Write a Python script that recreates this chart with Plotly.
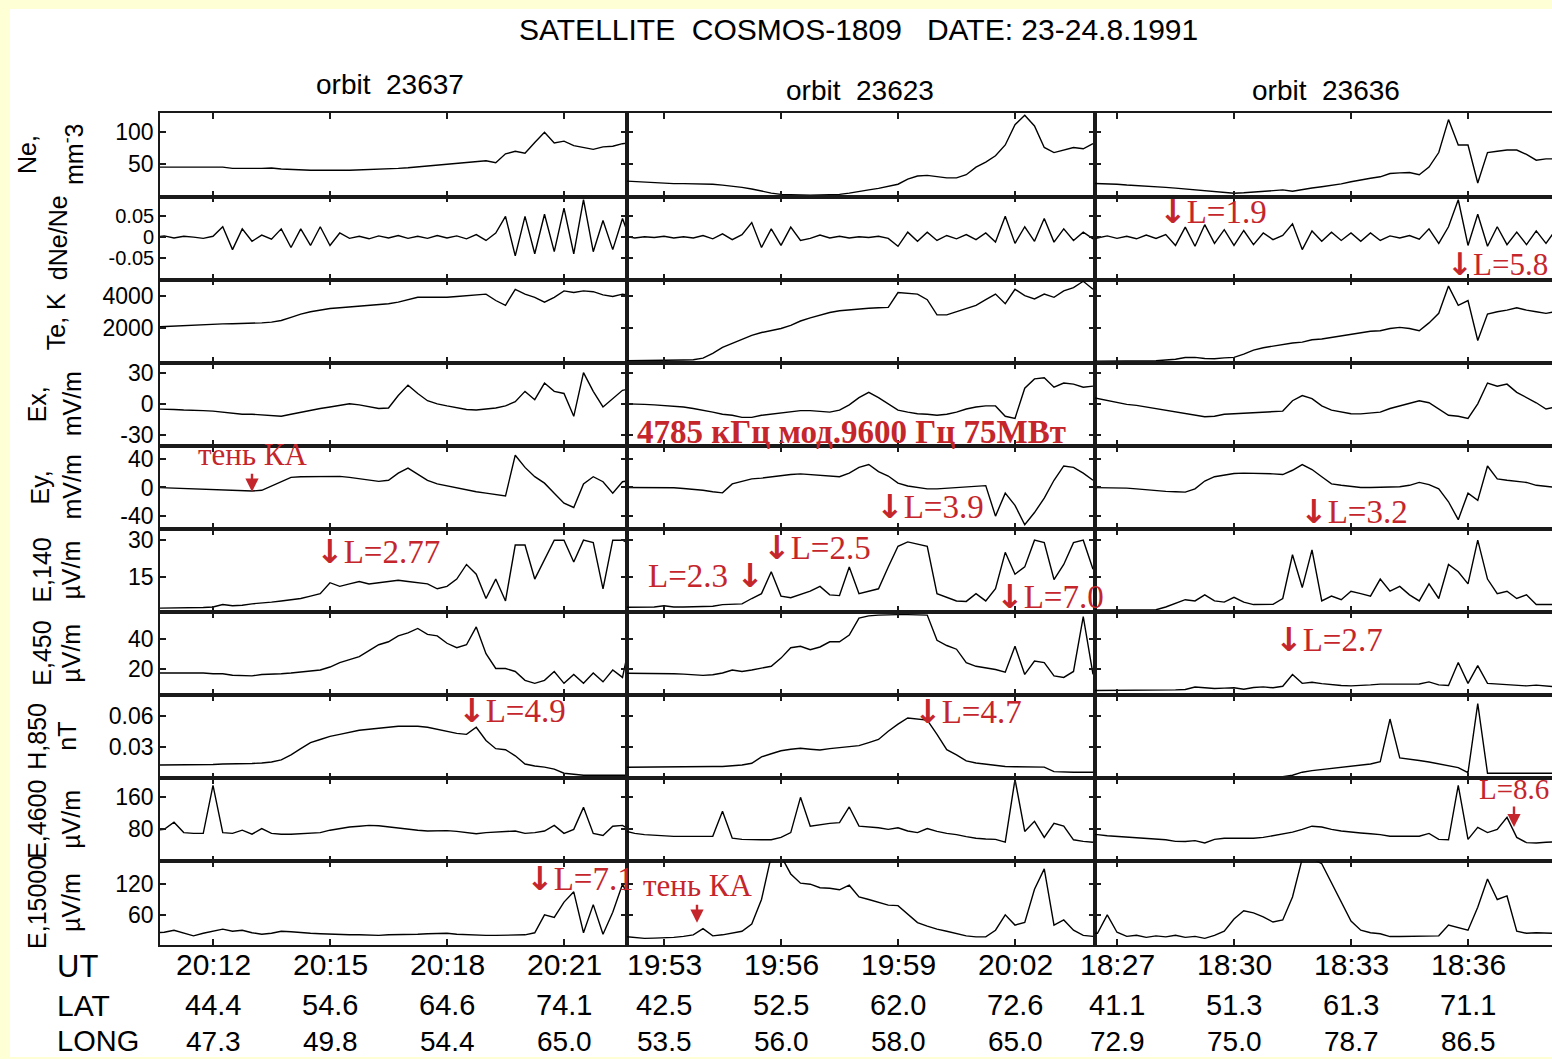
import plotly.graph_objects as go

# ---------------- data (minutes after first labelled UT of each orbit) ----------------
T1 = [-1.5,-1.25,-1,-0.75,-0.5,-0.25,0,0.25,0.5,0.75,1,1.25,1.5,1.75,2,2.25,2.5,2.75,3,3.25,
      3.5,3.75,4,4.25,4.5,4.75,5,5.25,5.5,5.75,6,6.25,6.5,6.75,7,7.25,7.5,7.75,8,8.25,
      8.5,8.75,9,9.25,9.5,9.75,10,10.25,10.5,10.75]
T2 = [-1,-0.75,-0.5,-0.25,0,0.25,0.5,0.75,1,1.25,1.5,1.75,2,2.25,2.5,2.75,3,3.25,3.5,3.75,
      4,4.25,4.5,4.75,5,5.25,5.5,5.75,6,6.25,6.5,6.75,7,7.25,7.5,7.75,8,8.25,8.5,8.75,
      9,9.25,9.5,9.75,10,10.25,10.5,10.75,11]
T3 = [-0.75,-0.5,-0.25,0,0.25,0.5,0.75,1,1.25,1.5,1.75,2,2.25,2.5,2.75,3,3.25,3.5,3.75,4,
      4.25,4.5,4.75,5,5.25,5.5,5.75,6,6.25,6.5,6.75,7,7.25,7.5,7.75,8,8.25,8.5,8.75,9,
      9.25,9.5,9.75,10,10.25,10.5,10.75,11,11.25]

# orbit 23637
NE1 = [45,45,45,45,45,45.5,46,45,43,42.5,43,43,43.5,42,41,40.5,40,40,39.5,40,40,40.5,41,41,41.5,43,44,45.5,47,48,
       50,51,53,54,55,52,66,70,67,84,100,83,86,79,76,73,77,78,82,84]
DNE1 = [0,0.003,-0.002,0.002,0,-0.003,0.002,0.025,-0.03,0.02,-0.01,0.005,-0.005,0.02,-0.025,0.02,-0.02,0.025,-0.02,0.01,
        -0.003,0.002,-0.004,0.003,-0.002,0.004,-0.003,0.002,-0.003,0.004,-0.002,0.003,-0.004,0.006,-0.008,0.01,0.05,-0.045,0.05,-0.04,
        0.055,-0.035,0.07,-0.04,0.09,-0.035,0.04,-0.03,0.045,-0.02]
TE1 = [2050,2080,2120,2150,2180,2200,2220,2240,2250,2260,2280,2300,2350,2450,2650,2850,3000,3100,3200,3250,
       3300,3350,3400,3450,3500,3600,3750,3900,3900,3900,3900,3950,4000,4050,4100,3700,3400,4400,4100,3900,
       3600,3900,4300,4200,4300,4250,4050,3950,4100,4000]
EX1 = [-5,-5,-5.5,-6,-6,-6.5,-7,-8,-9,-10,-10,-10.5,-11,-12,-10,-8,-6,-4.5,-3,-1.5,0,-1,-3,-4.5,-4,8,18,10,3,0,
       -2,-4,-5.5,-6,-5,-4,-2,2,12,4,20,12,10,-12,30,12,-3,5,13,15]
EY1 = [0,-0.5,-1,-1,-1.5,-2,-2,-2.5,-3,-3.5,-5,-4,2,8,14,15,15,15,15.5,15.5,14,12,10,8.5,10,20,27,18,10,5,
       2,0,-3,-6,-8,-10,-12,45,28,15,6,-8,-22,-28,5,15,8,-8,8,10]
E140_1 = [2,2,2,2.2,2,2.3,2.5,3.5,3,3.2,3.8,4,4.5,5,5.5,6,7,8,12.5,11,12,13,12,12.5,13,13.5,13,12.5,12,10,
          11,14,20,16,6,14,5,28,28,14,22,30,30,21,30,29,10,30,30,28]
E450_1 = [17,17,17,17,17.5,17,16.5,16.5,15.5,15.5,15,16,16,16.5,17,17.5,18,19,21,24,26,28,32,36,38,42,44,47,43,42,
          37,34,36,48,30,20,20,18,12,10,12,18,10,16,10,17,11,19,14,45]
H850_1 = [.012,.012,.012,.012,.0125,.0125,.0125,.013,.013,.013,.0135,.014,.015,.017,.022,.028,.034,.037,.04,.042,
          .044,.046,.047,.048,.049,.05,.05,.05,.049,.047,.045,.043,.042,.049,.036,.028,.027,.021,.013,.011,
          .01,.008,.004,.003,.002,.002,.002,.002,.002,.002]
E4600_1 = [78,80,98,72,70,70,190,72,70,78,68,82,70,68,68,69,70,72,78,82,86,88,90,89,86,83,80,78,76,77,
           77,75,72,69,72,73,75,76,70,72,76,90,70,80,135,70,65,88,90,75]
E15000_1 = [25,26,30,24,19,24,28,32,28,30,25,22,24,28,27,25,24,23,22,22,21,21,20,20,21,21,22,22,23,23,
            24,22,21,21,20,20,20,20,21,25,60,55,85,105,25,80,22,65,120,80]

# orbit 23623
NE2 = [23,22,21,20,19.5,19,19,19,18.5,18,16.5,15,13,10.5,7,4,2,1,1,0.5,1,1,2,4,6,9,11.5,14.5,18,26,
       31,32,30,28,28,33,45,53,63,80,112,127,110,76,68,72,76,74,82]
DNE2 = [0.002,-0.002,0.001,-0.001,0.002,-0.002,0.001,-0.002,0.004,-0.004,0.008,-0.006,0.006,0.035,-0.025,0.02,-0.02,0.024,-0.008,-0.003,
        0.005,-0.002,0.002,-0.002,0.001,-0.001,0.002,-0.003,-0.022,0.012,-0.01,0.012,-0.008,0.004,-0.004,0.006,-0.006,0.01,-0.012,0.05,
        -0.015,0.025,-0.01,0.045,-0.012,0.02,-0.008,0.012,-0.004]
TE2 = [-60,-60,-50,-40,-40,-30,-20,0,100,400,770,1020,1270,1520,1700,1830,1950,2150,2420,2620,
       2780,2950,3060,3120,3180,3220,3250,3270,4200,4150,4100,3750,2800,2800,3000,3200,3400,3750,4100,3500,
       4400,4000,3800,4100,3900,4300,4500,4900,4400]
EX2 = [0,0,-0.5,-1,-1.5,-2,-3,-4.5,-6,-8,-10,-11,-13,-13,-11,-10,-9,-8,-6.5,-6.5,-7,-8,-6,-1,6,11,6,0,-6,-8,
       -9.5,-10,-11,-10,-8,-5,-3,-2,-2,-12,-14,15,24,25,16,20,19,16,17]
EY2 = [0,0,0,0,0,-0.5,-1.5,-2.5,-4,-6,-7.5,5,9,12,13,15,17,18,19,18,17,15,15,20,28,32,22,16,6,2,
       0,-2,-2,-1,0,1,1.5,2.5,-40,-8,-25,-52,-35,-15,10,30,28,20,10]
E140_2 = [2.4,2.4,2.4,2.5,3,2.5,2.5,2.6,2.7,2.8,3.5,3.5,3.8,6,8,17,7,6.3,7.5,9,11,7.5,7.2,19,8,9,10,19,27.5,29.3,
          28.5,27.5,8,6.5,5,4.8,8,5,10,25,16,19,30,29,13.8,20,29,30,18]
E450_2 = [16.8,16.8,16.8,16.8,16.8,16.5,16.2,15.8,15.4,15.8,17,19,18,19,20,21.5,27,34,35,32.7,34.5,38,38,42.5,54,55.5,56,56.3,56.3,56.3,
          56.3,56,39,35.5,33,24,21.5,20.5,19.3,17.5,35,16,25,24,15,14,18,55,16]
H850_2 = [.0098,.0098,.0098,.0098,.01,.01,.01,.0102,.0104,.0105,.0106,.011,.012,.0137,.02,.023,.026,.0275,.0284,.0275,
          .0267,.028,.029,.0295,.031,.034,.037,.045,.052,.058,.057,.056,.042,.027,.022,.016,.014,.013,.012,.0105,
          .0103,.0102,.01,.01,.0055,.005,.005,.005,.005]
E4600_2 = [75.7,70,67,65,63,62.6,62.6,62.6,62.6,62.6,125,58,55,54,54,54,60,72,160,88,92,95,97,136,88,86,84,80,84,76,
           72,82,75,70,67,62,58,56,55,48,205,75,100,60,95,88,54,50,48]
E15000_2 = [17.6,16,14,14.5,15,16,18,21,33,19,21,24,28,42,90,175,175,140,122,120,113,112,109,118,95,90,85,79,78,62,
            45,38,32,28,24,19,17,17,30,60,40,45,110,150,40,50,30,20,18]

# orbit 23636
NE3 = [19.5,19.3,18.8,18,16.7,16,15.2,14.2,13,11.8,10.4,9,7.8,6.5,5,3.8,4.5,5.5,6.5,7.2,9,7,10,12,14,16,18.5,22,25,27.5,
       29.7,35,36,36.5,33,45,68,120,80,80,20,68,70,72,72,65,56,58,58]
DNE3 = [0.002,-0.002,0.003,-0.003,0.002,-0.004,0.005,-0.003,0.006,-0.02,0.024,-0.022,0.03,-0.015,0.018,-0.02,0.016,-0.018,0.01,-0.006,
        0.004,0.032,-0.03,0.015,-0.01,0.012,-0.008,0.01,-0.01,0.01,-0.008,0.003,-0.002,0.004,-0.005,0.02,-0.015,0.025,0.09,-0.02,
        0.055,-0.022,0.025,-0.018,0.012,-0.018,0.015,-0.015,0.018]
TE3 = [-100,-100,-100,-100,-90,-80,-80,-60,-20,30,140,150,80,60,120,150,350,600,750,850,920,1050,1100,1250,1300,1400,1500,1600,1700,1780,
       1813,1950,2020,1950,1813,2300,2900,4600,3400,3700,1200,2850,3000,3100,3250,3100,3000,2900,3000]
EX3 = [7,5,3,1,-0.5,-1.5,-3,-4.5,-6,-7.5,-9.5,-10.5,-12.5,-12,-10,-9.5,-9,-8.5,-8,-7.5,-7,3,8,5,-2,-6,-8,-9.5,-9.7,-9,
       -8,-4.5,-2,1,3,1,-5,-11,-12,-14,0,20,17,19,11,6,1,-5,-3]
EY3 = [0,0,0,0,-1,-2,-3.5,-5,-5.5,-6,-6.5,-2,9,15,17,19.5,20,20,19.5,19,18,24,32,25,15,5,3,1,0,0,
       0,0,1,3,7,4,-2,-20,-45,-8,-18,30,12,10,8,7,3,1,0]
E140_3 = [1.3,1.3,1.4,1.3,1.5,1.3,1.6,1.4,2.5,4,5.5,5,7.5,5,4.5,6.5,4.5,3.5,3.5,3.6,6,24,10.5,26,5,7,5.5,9,8,7,
          14,9,11,7.5,5,12,6,20,17,12,30,14,8,9,6,7.5,3.5,3.5,3.5]
E450_3 = [5.1,5.1,5.3,5.1,5.2,5.1,5.2,5.1,5.3,5.6,5.9,7.5,7,6.5,6.8,7,6,7.2,7.6,7,8,16,10,10.7,9.8,9,8.5,8.3,8.5,9,
          9.5,9.5,9.5,9.5,9.6,11,9,8.5,24,10,22,10,9.5,9,8.5,8.3,8.8,8,7.6]
H850_3 = [.0005,.0005,.0005,.0005,.0005,.0005,.0005,.0005,.0005,.0005,.0005,.0005,.0005,.0005,.0005,.0005,.0005,.0005,.0005,.0005,
          .0005,.002,.005,.0065,.0075,.0085,.0098,.0105,.012,.013,.0153,.057,.019,.018,.0165,.015,.013,.011,.0095,.0045,
          .072,.004,.004,.004,.004,.004,.004,.004,.004]
E4600_3 = [68,67,64,62.6,61,59,57,56,54,50,49.6,52,46,55,58,58,58,58,60,64,68,73,80,88,86,80,76,73,71,69,
           67,63,62.6,62.6,63,70,55,54,190,55,85,72,80,110,60,47,46,48,49]
E15000_3 = [24,24,60,26,18,20,16,19,17,20,16,18,14,20,28,52,68,64,56,46,50,95,170,170,160,122,87,48,30,25,
            23,17.6,17.6,17.6,17.6,18,19,40,35,30,75,130,90,97,28,24,25,24,24]

ORBITS = ["orbit  23637", "orbit  23623", "orbit  23636"]
UT = [["20:12", "20:15", "20:18", "20:21"], ["19:53", "19:56", "19:59", "20:02"], ["18:27", "18:30", "18:33", "18:36"]]
UT_MIN = [0, 3, 6, 9]
LAT = [["44.4", "54.6", "64.6", "74.1"], ["42.5", "52.5", "62.0", "72.6"], ["41.1", "51.3", "61.3", "71.1"]]
LONG = [["47.3", "49.8", "54.4", "65.0"], ["53.5", "56.0", "58.0", "65.0"], ["72.9", "75.0", "78.7", "86.5"]]

YLABELS = [["Ne,", "mm<sup>-</sup>3"], ["dNe/Ne"], ["Te, K"], ["Ex,", "mV/m"], ["Ey,", "mV/m"],
           ["E,140", "µV/m"], ["E,450", "µV/m"], ["H,850", "nT"], ["E,4600", "µV/m"], ["E,15000", "µV/m"]]
YRANGES = [[-1.5, 129.7], [-0.1024, 0.0976], [-190, 5000], [-40.5, 39.5], [-58, 58],
           [0.4, 34.6], [2, 58], [-0.001, 0.0803], [0, 207.5], [2, 164.5]]
YTICKS = [[100, 50], [0.05, 0, -0.05], [4000, 2000], [30, 0, -30], [40, 0, -40],
          [30, 15], [40, 20], [0.06, 0.03], [160, 80], [120, 60]]
YTICKTEXT = [["100", "50"], ["0.05", "0", "-0.05"], ["4000", "2000"], ["30", "0", "-30"], ["40", "0", "-40"],
             ["30", "15"], ["40", "20"], ["0.06", "0.03"], ["160", "80"], ["120", "60"]]

TIMES = [T1, T2, T3]
DATA = [[NE1, NE2, NE3], [DNE1, DNE2, DNE3], [TE1, TE2, TE3], [EX1, EX2, EX3], [EY1, EY2, EY3],
        [E140_1, E140_2, E140_3], [E450_1, E450_2, E450_3], [H850_1, H850_2, H850_3],
        [E4600_1, E4600_2, E4600_3], [E15000_1, E15000_2, E15000_3]]

ARROW = "<span style=\"font-family:'DejaVu Sans'\"><b>↓</b></span>"
# red notes: (text, x px, y px, bold)
NOTES = [(ARROW + "L=2.77", 378, 551, False), (ARROW + "L=4.9", 512, 711, False),
         (ARROW + "L=7.1", 580, 880, False), ("4785 кГц мод.9600 Гц 75МВт", 851, 431, True),
         (ARROW + "L=3.9", 930, 506, False), ("L=2.3 " + ARROW, 706, 575, False),
         (ARROW + "L=2.5", 817, 547, False), (ARROW + "L=7.0", 1050, 596, False),
         (ARROW + "L=4.7", 968, 712, False), (ARROW + "L=1.9", 1213, 209, False),
         (ARROW + "L=5.8", 1497, 262, False), (ARROW + "L=3.2", 1354, 511, False),
         (ARROW + "L=2.7", 1329, 640, False)]
# notes with an arrow below the text: (text, text x px, text y px, arrow tip y px, size)
ARROW_NOTES = [("тень КА", 252, 454, 491, 31), ("тень КА", 697, 887, 924, 31), ("L=8.6", 1514, 790, 828, 29)]

# ---------------- layout geometry ----------------
W, H = 1552, 1059
COL_L = [160, 627, 1095]
COL_R = [627, 1095, 1552]
TICK0 = [213, 664, 1117]
PXM = 39.0
TOP, RH = 111, 83.5
LAB_X = [[27, 73], [58], [56], [37, 72], [40, 72], [42, 71], [42, 71], [37, 67], [37, 71], [37, 71]]
TICKSIZE = [23, 20, 23, 23, 23, 23, 23, 23, 23, 23]
SANS = "Liberation Sans, Arial, sans-serif"
SERIF = "Liberation Serif, Times New Roman, serif"
RED = "#C4262C"
LINEC = "#1a1a1a"

def px(x):
    return x / W

def py(y):
    return 1 - y / H

fig = go.Figure()
layout = {}
annotations = []

for r in range(10):
    for c in range(3):
        n = r * 3 + c + 1
        sfx = "" if n == 1 else str(n)
        fig.add_trace(go.Scatter(x=TIMES[c], y=DATA[r][c], mode="lines",
                                 line=dict(color="black", width=1.4),
                                 xaxis="x" + sfx, yaxis="y" + sfx,
                                 showlegend=False, hoverinfo="skip"))
        layout["xaxis" + sfx] = dict(
            domain=[px(COL_L[c]), px(COL_R[c])],
            range=[(COL_L[c] - TICK0[c]) / PXM, (COL_R[c] - TICK0[c]) / PXM],
            anchor="y" + sfx, tickvals=UT_MIN, ticks="inside", ticklen=6, tickwidth=1.5,
            tickcolor=LINEC, showticklabels=False, showline=True, mirror="allticks",
            linecolor=LINEC, linewidth=1.6, showgrid=False, zeroline=False, fixedrange=True)
        layout["yaxis" + sfx] = dict(
            domain=[py(TOP + (r + 1) * RH), py(TOP + r * RH)],
            range=YRANGES[r], anchor="x" + sfx, tickvals=YTICKS[r], ticktext=YTICKTEXT[r],
            ticks="inside", ticklen=6, tickwidth=1.5, tickcolor=LINEC,
            showticklabels=(c == 0), tickfont=dict(family=SANS, size=TICKSIZE[r], color="black"),
            showline=True, mirror=("allticks" if c < 2 else False), linecolor=LINEC, linewidth=1.6,
            showgrid=False, zeroline=False, fixedrange=True)

# y-axis titles
for r in range(10):
    yc = py(TOP + (r + 0.5) * RH)
    for i, txt in enumerate(YLABELS[r]):
        annotations.append(dict(text=txt, x=px(LAB_X[r][i]), y=yc, xref="paper", yref="paper",
                                textangle=-90, showarrow=False, xanchor="center", yanchor="middle",
                                font=dict(family=SANS, size=25, color="black")))

# bottom UT / LAT / LONG rows
for c in range(3):
    n = 27 + c + 1
    for j in range(4):
        for txt, ypx, fs in ((UT[c][j], 966, 30), (LAT[c][j], 1007, 29), (LONG[c][j], 1043, 28)):
            annotations.append(dict(text=txt, x=UT_MIN[j], y=py(ypx), xref="x%d" % n, yref="paper",
                                    showarrow=False, xanchor="center", yanchor="middle",
                                    font=dict(family=SANS, size=fs, color="black")))
for txt, ypx, fs in (("UT", 968, 31), ("LAT", 1007, 30), ("LONG", 1043, 29)):
    annotations.append(dict(text=txt, x=px(55), y=py(ypx), xref="paper", yref="paper",
                            showarrow=False, xanchor="left", yanchor="middle",
                            font=dict(family=SANS, size=fs, color="black")))

# titles
annotations.append(dict(text="SATELLITE  COSMOS-1809   DATE: 23-24.8.1991", x=px(858), y=py(27),
                        xref="paper", yref="paper", showarrow=False, xanchor="center", yanchor="middle",
                        font=dict(family=SANS, size=30, color="black")))
for c, xpx, ypx in ((0, 390, 82), (1, 860, 88), (2, 1326, 88)):
    annotations.append(dict(text=ORBITS[c], x=px(xpx), y=py(ypx), xref="paper", yref="paper",
                            showarrow=False, xanchor="center", yanchor="middle",
                            font=dict(family=SANS, size=28, color="black")))

# red notes
for txt, xpx, ypx, bold in NOTES:
    annotations.append(dict(text=("<b>%s</b>" % txt) if bold else txt, x=px(xpx), y=py(ypx),
                            xref="paper", yref="paper", showarrow=False, xanchor="center", yanchor="middle",
                            font=dict(family=SERIF, size=33 if not txt.startswith(ARROW + "L=5") else 31, color=RED)))
for txt, xpx, ypx, tip, fs in ARROW_NOTES:
    annotations.append(dict(text=txt, x=px(xpx), y=py(tip), xref="paper", yref="paper",
                            showarrow=True, ax=0, ay=ypx - tip, arrowhead=2, arrowsize=1.1,
                            arrowwidth=2.4, arrowcolor=RED, standoff=0, startstandoff=0,
                            xanchor="center", yanchor="middle",
                            font=dict(family=SERIF, size=fs, color=RED)))

fig.update_layout(**layout)
fig.update_layout(
    width=W, height=H, margin=dict(l=0, r=0, t=0, b=0, pad=0),
    paper_bgcolor="#FFFFD6", plot_bgcolor="white", showlegend=False,
    annotations=annotations,
    shapes=[dict(type="rect", xref="paper", yref="paper", x0=px(10), x1=1, y0=0, y1=py(6),
                 fillcolor="white", line=dict(width=0), layer="below")])

fig.write_html("out.html")
